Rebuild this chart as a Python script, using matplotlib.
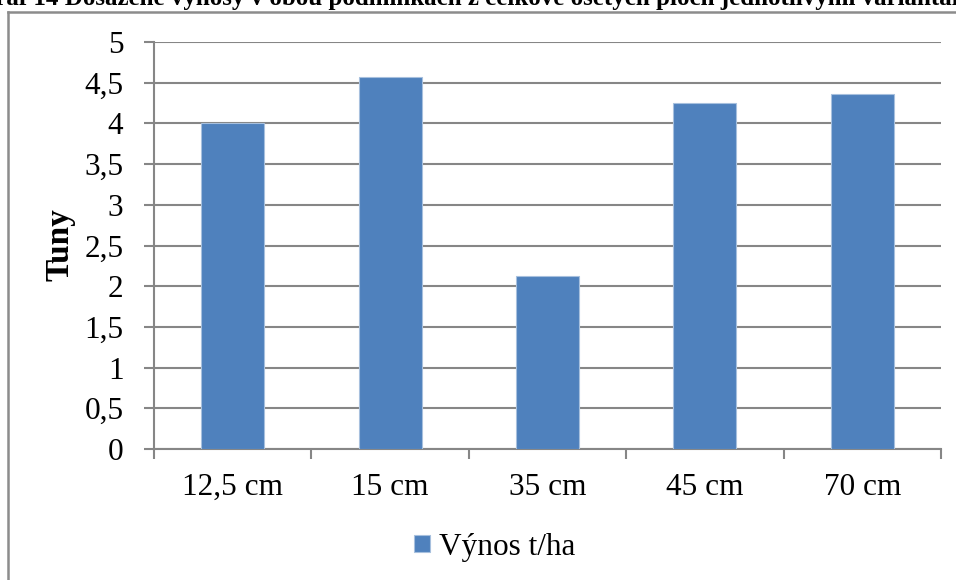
import numpy as np
import matplotlib.pyplot as plt
from matplotlib.lines import Line2D
from matplotlib.ticker import FixedLocator, FuncFormatter

plt.rcParams['font.family'] = ['Liberation Serif', 'DejaVu Serif']

# Výnosy podle šířky řádku
categories = ['12,5 cm', '15 cm', '35 cm', '45 cm', '70 cm']
vynos = [4.0, 4.57, 2.13, 4.25, 4.36]
series_name = 'Výnos t/ha'
title = 'Graf 14 Dosažené výnosy v obou podmínkách z celkově osetých ploch jednotlivými variantami'

W, H = 956, 580
fig = plt.figure(figsize=(W / 100, H / 100), dpi=100)
ax = fig.add_axes([154 / W, 1 - 449 / H, (941 - 154) / W, (449 - 42) / H])

bar_color = '#4F81BD'
grid_color = '#868686'
fs = 22.5

x = np.arange(len(categories))
bars = ax.bar(x, vynos, width=0.4, color=bar_color, edgecolor='#A7C0DE',
              linewidth=0.8, zorder=3, label=series_name)

ax.set_xlim(-0.5, len(categories) - 0.5)
ax.set_ylim(0, 5)
ax.set_yticks(np.arange(0, 5.01, 0.5))
ax.yaxis.set_major_formatter(FuncFormatter(lambda v, p: f'{v:g}'.replace('.', ',')))
ax.yaxis.grid(True, color=grid_color, linewidth=1.5, zorder=0)

ax.set_xticks(x)
ax.set_xticklabels(categories)
ax.xaxis.set_minor_locator(FixedLocator(np.arange(-0.5, len(categories), 1.0)))
ax.tick_params(axis='x', which='major', length=0, pad=17, labelsize=fs)
ax.tick_params(axis='x', which='minor', length=7, width=1.5, color=grid_color)
ax.tick_params(axis='y', which='major', length=7, width=1.5, color=grid_color,
               pad=15, labelsize=fs)

for side in ['top', 'right']:
    ax.spines[side].set_visible(False)
for side in ['left', 'bottom']:
    ax.spines[side].set_color(grid_color)
    ax.spines[side].set_linewidth(1.5)

fig.text(60 / W, 1 - 245 / H, 'Tuny', rotation=90, ha='center', va='center',
         fontsize=24, fontweight='bold')

# legenda pod grafem
fig.legend(handles=[bars], labels=[series_name], loc='center',
           bbox_to_anchor=(495 / W, 1 - 547 / H), frameon=False, fontsize=fs,
           handlelength=0.5, handleheight=0.5, handletextpad=0.3)

# nadpis (horní část je oříznutá okrajem obrázku)
fig.text(0.5, 1 - 5 / H, title, ha='center', va='baseline',
         fontsize=18, fontweight='bold')

# rámeček oblasti grafu
fig.add_artist(Line2D([8 / W, 8 / W], [0, 1 - 12 / H], transform=fig.transFigure,
                      color='#8C8C8C', linewidth=1.8))
fig.add_artist(Line2D([8 / W, 1], [1 - 12 / H, 1 - 12 / H], transform=fig.transFigure,
                      color='#8C8C8C', linewidth=1.8))

fig.savefig('out.png', dpi=100)
